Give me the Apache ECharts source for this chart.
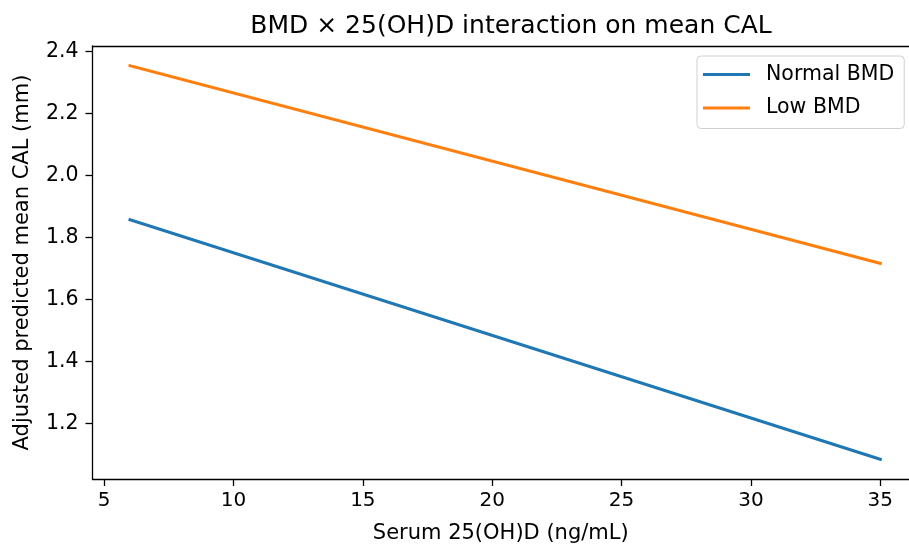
<!DOCTYPE html>
<html><head><meta charset="utf-8">
<script src="https://cdn.jsdelivr.net/npm/echarts@6/dist/echarts.min.js"></script>
<style>html,body{margin:0;padding:0;background:#fff}#c{width:909px;height:549px}</style>
</head><body><div id="c"></div>
<script>
const xValues = [6, 35];
const normalBMD = [1.858, 1.085];
const lowBMD = [2.355, 1.717];
const xTicks = [5, 10, 15, 20, 25, 30, 35];
const yTicks = [1.2, 1.4, 1.6, 1.8, 2.0, 2.2, 2.4];
const seriesNames = ['Normal BMD', 'Low BMD'];
const colors = ['#1f77b4', '#ff7f0e'];

const font = 'DejaVu Sans';
const chart = echarts.init(document.getElementById('c'), null, {renderer: 'canvas'});
chart.setOption({
  animation: false,
  backgroundColor: '#fff',
  title: {
    text: 'BMD × 25(OH)D interaction on mean CAL',
    left: 506, top: 9, textAlign: 'center',
    textStyle: {fontFamily: font, fontSize: 25, fontWeight: 'normal', color: '#000'}
  },
  legend: {
    orient: 'vertical', left: 697, top: 56,
    padding: [8, 10, 10, 6], itemGap: 12.5,
    itemWidth: 47, itemHeight: 3, icon: 'rect',
    borderColor: '#d0d0d0', borderWidth: 1, borderRadius: 4, backgroundColor: '#fff',
    textStyle: {fontFamily: font, fontSize: 20.5, color: '#000', padding: [0, 0, 0, 11]},
    data: seriesNames
  },
  grid: {left: 92.5, right: 0, top: 46, bottom: 66.5, show: false, containLabel: false},
  xAxis: [{
    type: 'value', min: 4.55, max: 36.11,
    name: 'Serum 25(OH)D (ng/mL)', nameLocation: 'middle', nameGap: 44,
    nameTextStyle: {fontFamily: font, fontSize: 21, color: '#000'},
    axisLine: {show: true, onZero: false, lineStyle: {color: '#000', width: 1.3}},
    axisTick: {show: true, length: 7, lineStyle: {color: '#000', width: 1.3}, customValues: xTicks},
    axisLabel: {fontFamily: font, fontSize: 20, color: '#000', margin: 12, customValues: xTicks, formatter: v => String(v)},
    splitLine: {show: false}
  }, {
    type: 'value', position: 'top', min: 4.55, max: 36.11,
    axisLine: {show: true, onZero: false, lineStyle: {color: '#000', width: 1.3}},
    axisTick: {show: false}, axisLabel: {show: false}, splitLine: {show: false}
  }],
  yAxis: {
    type: 'value', min: 1.0215, max: 2.4185,
    name: 'Adjusted predicted mean CAL (mm)', nameLocation: 'middle', nameGap: 59, nameRotate: 90,
    nameTextStyle: {fontFamily: font, fontSize: 21, color: '#000'},
    axisLine: {show: true, onZero: false, lineStyle: {color: '#000', width: 1.3}},
    axisTick: {show: true, length: 7, lineStyle: {color: '#000', width: 1.3}, customValues: yTicks},
    axisLabel: {fontFamily: font, fontSize: 20.5, color: '#000', margin: 14, customValues: yTicks, formatter: v => v.toFixed(1)},
    splitLine: {show: false}
  },
  series: seriesNames.map((name, i) => ({
    name, type: 'line', showSymbol: false, symbol: 'none', xAxisIndex: 0,
    data: xValues.map((x, j) => [x, (i === 0 ? normalBMD : lowBMD)[j]]),
    lineStyle: {color: colors[i], width: 3, cap: 'square'},
    itemStyle: {color: colors[i]}
  }))
});
</script></body></html>
